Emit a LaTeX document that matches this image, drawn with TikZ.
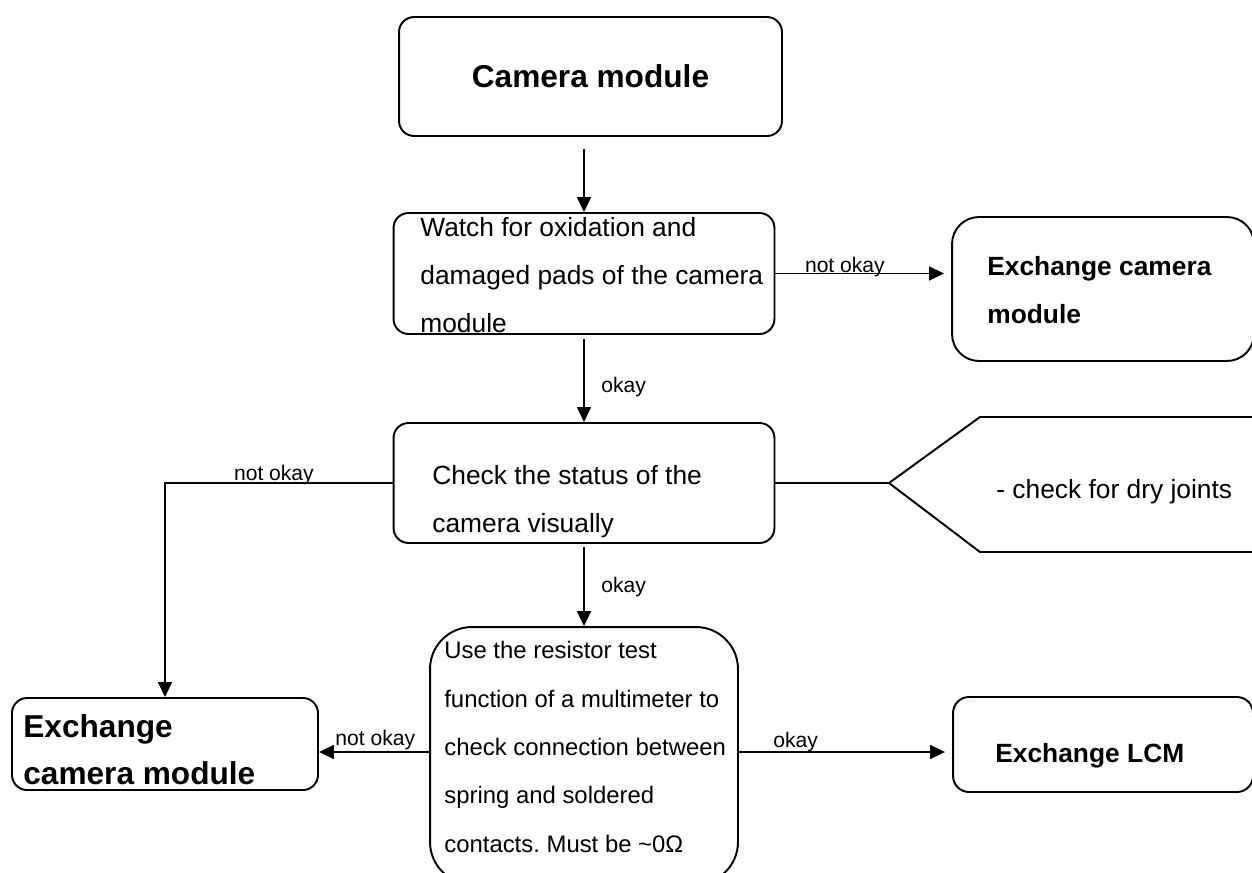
\documentclass[tikz,border=0pt]{standalone}
\usepackage{fontspec}
\setmainfont{Liberation Sans}
\usetikzlibrary{arrows.meta}
\frenchspacing

\tikzset{
  box/.style={draw, line width=1.1pt, rounded corners=0.3cm, inner sep=0pt},
  txt/.style={anchor=base west, inner sep=0pt, align=left, font=\fontsize{15}{27.2}\selectfont},
  lbl/.style={inner sep=0pt, anchor=base west, font=\fontsize{12}{14}\selectfont},
  arr/.style={-{Triangle[length=0.3cm, width=0.28cm]}, line width=0.9pt},
}

\begin{document}
\begin{tikzpicture}[x=0.02cm, y=-0.02cm]
  \useasboundingbox (0,0) rectangle (1252,873);

  % Draw the boxes
  \node[box, minimum width=7.66cm, minimum height=2.38cm, font=\bfseries\fontsize{18}{20}\selectfont] (cam) at (590.5,76.5) {Camera module};
  \node[box, minimum width=7.62cm, minimum height=2.42cm] (watch) at (584,273.5) {};
  \node[box, rounded corners=0.54cm, minimum width=6.04cm, minimum height=2.88cm] (exch1) at (1103,289) {};
  \node[box, minimum width=7.62cm, minimum height=2.4cm] (check) at (584,483) {};
  \node[box, minimum width=6.12cm, minimum height=1.84cm] (exch2) at (165,744) {};
  \node[box, rounded corners=0.84cm, minimum width=6.16cm, minimum height=5.14cm] (resist) at (584,755.5) {};
  \node[box, rounded corners=0.32cm, minimum width=6cm, minimum height=1.9cm] (lcm) at (1103,744.5) {};

  % Draw the hint shape
  \coordinate (tip) at (889,483);
  \draw[line width=1.1pt] (1256,417) -- (980,417) -- (tip) -- (980,552) -- (1256,552);

  % Texts of the boxes (base = last line)
  \node[txt] (watchtxt) at (420,332) {Watch for oxidation and\\damaged pads of the camera\\module};
  \node[txt, font=\bfseries\fontsize{15}{27.2}\selectfont] (exch1txt) at (987,323) {Exchange camera\\module};
  \node[txt] (checktxt) at (432,532) {Check the status of the\\camera visually};
  \node[txt] (drytxt) at (996,498) {- check for dry joints};
  \node[txt, font=\bfseries\fontsize{18}{26.7}\selectfont] (exch2txt) at (23,784) {Exchange\\camera module};
  \node[txt, font=\fontsize{13.6}{27.5}\selectfont] (resisttxt) at (444,852) {Use the resistor test\\function of a multimeter to\\check connection between\\spring and soldered\\contacts. Must be \textasciitilde0Ω};
  \node[txt, font=\bfseries\fontsize{15}{27.2}\selectfont] (lcmtxt) at (995,762) {Exchange LCM};

  % Draw the arrows
  \draw[arr, shorten <=0.24cm] (cam.south -| watch.north) -- (watch.north);
  \draw[arr, shorten >=0.14cm] (watch.east) -- (watch.east -| exch1.west)
    node[lbl, pos=0.164, yshift=0.02cm] (nok1) {not okay};
  \draw[arr, shorten <=0.08cm] (watch.south) -- (check.north)
    node[lbl, pos=0.66, xshift=0.33cm] (ok1) {okay};
  \draw[line width=0.9pt] (check.east) -- (tip);
  \draw[arr] (check.west) -| (exch2.north)
    node[lbl, pos=0.35, yshift=0.06cm] (nok2) {not okay};
  \draw[arr, shorten <=0.06cm] (check.south) -- (resist.north)
    node[lbl, pos=0.595, xshift=0.33cm] (ok2) {okay};
  \draw[arr] ([yshift=0.07cm]resist.west) -- ([yshift=0.07cm]resist.west -| exch2.east)
    node[lbl, pos=0.857, yshift=0.14cm] (nok3) {not okay};
  \draw[arr, shorten >=0.14cm] ([yshift=0.07cm]resist.east) -- ([yshift=0.07cm]resist.east -| lcm.west)
    node[lbl, pos=0.158, yshift=0.1cm] (ok3) {okay};
\end{tikzpicture}
\end{document}
